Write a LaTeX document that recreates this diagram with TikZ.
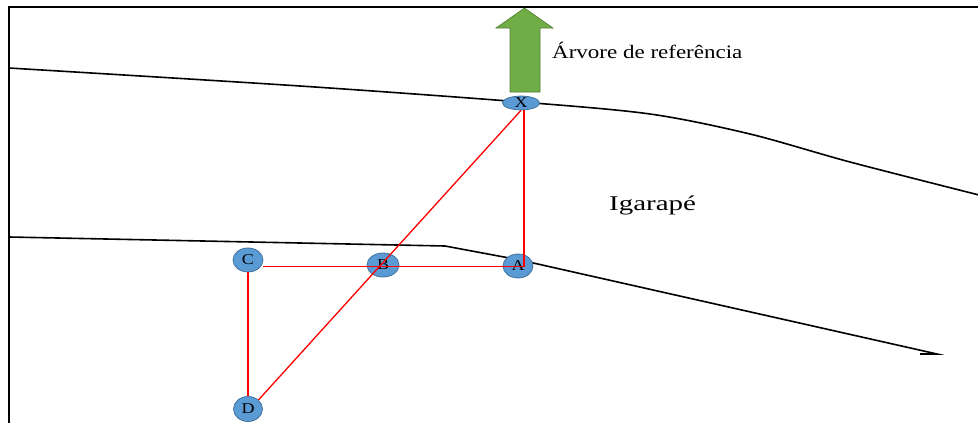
\documentclass[tikz,border=0pt]{standalone}
\usepackage{fontspec}
\setmainfont{Liberation Serif}
\usetikzlibrary{shapes.geometric}
\definecolor{nodeblue}{RGB}{91,155,213}
\definecolor{nodeedge}{RGB}{65,113,156}
\definecolor{arrgreen}{RGB}{112,173,71}
\definecolor{arredge}{RGB}{80,126,50}
\tikzset{
  pt/.style={ellipse, fill=nodeblue, draw=nodeedge, line width=0.8pt, inner sep=0pt,
    font=\fontsize{15}{15}\selectfont},
  bank/.style={line width=1.6pt, black},
  redline/.style={line width=1.3pt, red},
  frameline/.style={line width=2pt, black}
}
\newcommand{\stretchx}[2]{\scalebox{#1}[1]{#2}}
\begin{document}
\begin{tikzpicture}[x=1pt,y=-1pt]
\useasboundingbox (0,0) rectangle (978,423);
% frame
\draw[frameline] (978,7) -- (9,7) -- (9,424);
% river banks
\draw[bank] plot[smooth, tension=0.5] coordinates {(9,68) (300,86) (521,102) (650,114) (750,134) (850,162) (979,195)};
\draw[bank] (9,237) -- (445,246) -- (520,260) -- (937,354) -- (920,354);
% green arrow
\draw[fill=arrgreen, draw=arredge, line width=0.6pt]
  (510,92) -- (540,92) -- (540,28) -- (553,28) -- (524.5,8) -- (496,28) -- (510,28) -- cycle;
% nodes
\node[pt, minimum width=37pt, minimum height=13pt] (X) at (521,103) {\stretchx{1.2}{X}};
\node[pt, minimum width=30pt, minimum height=24pt] (C) at (248,260) {\stretchx{1.2}{C}};
\node[pt, minimum width=32pt, minimum height=24pt] (B) at (383,265) {\stretchx{1.2}{B}};
\node[pt, minimum width=30pt, minimum height=24pt] (A) at (518,266) {\stretchx{1.2}{A}};
\node[pt, minimum width=29pt, minimum height=25pt] (D) at (248,409) {\stretchx{1.2}{D}};
% red connectors
\coordinate (K) at (524,266.5);
\draw[redline] (X.south -| K) -- (K) -- (C.east |- K);
\draw[redline] (C.south) -- (D.north);
\draw[redline] (X.south) -- (D.north east);
% labels
\node[anchor=west, inner sep=0pt, font=\fontsize{19}{19}\selectfont] (lab) at (552,50) {\stretchx{1.21}{Árvore de referência}};
\node[anchor=west, inner sep=0pt, font=\fontsize{21}{21}\selectfont] (ig) at (609,205) {\stretchx{1.38}{Igarapé}};
\end{tikzpicture}
\end{document}
